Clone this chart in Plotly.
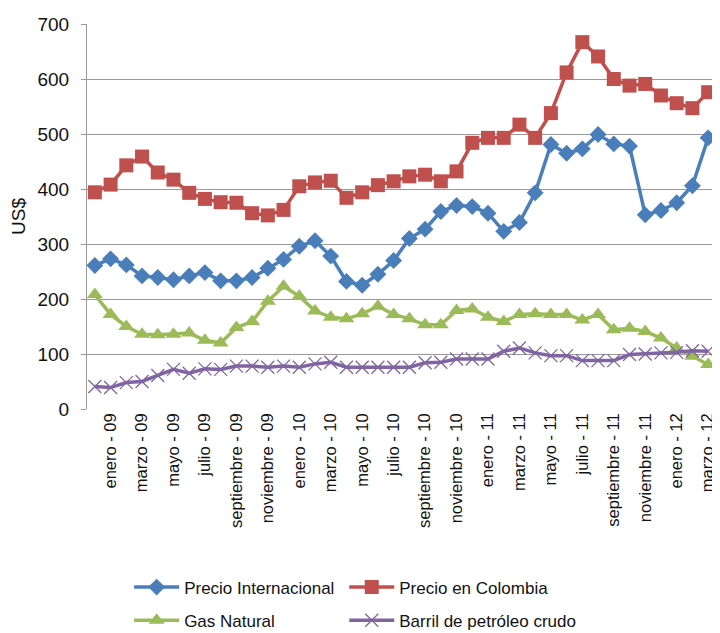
import plotly.graph_objects as go

meses = ["enero", "febrero", "marzo", "abril", "mayo", "junio", "julio",
         "agosto", "septiembre", "octubre", "noviembre", "diciembre"]

# diciembre-08 .. marzo-12 (40 months)
periodos = ["diciembre - 08"]
for anio in ["09", "10", "11"]:
    periodos += [f"{m} - {anio}" for m in meses]
periodos += [f"{m} - 12" for m in meses[:3]]

precio_internacional = [261, 273, 262, 242, 239, 235, 242, 248, 233, 233, 239, 256, 272, 296,
                        306, 278, 232, 225, 245, 270, 310, 327, 359, 370, 368, 356, 323, 339,
                        393, 481, 465, 473, 499, 482, 478, 353, 361, 375, 406, 493]
precio_colombia = [394, 408, 443, 459, 430, 417, 393, 382, 376, 375, 356, 352, 362, 405,
                   412, 415, 384, 394, 407, 414, 423, 426, 414, 432, 484, 493, 493, 517,
                   493, 538, 612, 667, 641, 600, 588, 591, 570, 556, 547, 576]
gas_natural = [208, 172, 150, 136, 135, 136, 138, 125, 120, 148, 159, 196, 223, 205,
               178, 167, 164, 173, 187, 172, 164, 153, 153, 179, 182, 167, 159, 172,
               173, 172, 172, 162, 172, 144, 147, 141, 129, 111, 96, 81]
barril_crudo = [41, 39, 48, 50, 61, 72, 65, 73, 72, 78, 78, 76, 78, 76, 82, 85, 76,
                76, 76, 76, 76, 84, 85, 91, 91, 91, 105, 111, 102, 97, 97, 88, 88, 88,
                99, 100, 102, 103, 106, 105]

etiquetas = periodos[1::2]

FONT = "Liberation Sans, Arial, sans-serif"

fig = go.Figure()

# legend is laid out as two columns: "legend" on the left, "legend2" on the right
series = [
    ("Precio Internacional", precio_internacional, "#4A7EBB",
     dict(symbol="diamond", size=13), "legend"),
    ("Precio en Colombia", precio_colombia, "#C0504D",
     dict(symbol="square", size=14), "legend2"),
    ("Gas Natural", gas_natural, "#9BBB59",
     dict(symbol="triangle-up", size=14), "legend"),
    ("Barril de petróleo crudo", barril_crudo, "#8064A2",
     dict(symbol="x-thin", size=13, line=dict(width=1.3, color="#8064A2")), "legend2"),
]

for nombre, valores, color, marker, leyenda in series:
    fig.add_trace(
        go.Scatter(
            x=periodos,
            y=valores,
            mode="lines+markers",
            name=nombre,
            legendgroup=nombre,
            line=dict(color=color, width=3.5),
            marker=dict(color=color, **marker),
            legend=leyenda
        )
    )

legend_style = dict(
    orientation="v",
    y=-0.417,
    yanchor="top",
    xanchor="left",
    itemwidth=45,
    tracegroupgap=8,
    font=dict(size=17, color="#111"),
    bgcolor="rgba(0,0,0,0)"
)

# page body has an 8px margin; the figure runs a bit past the window so the
# legend fits without squeezing the plot area
fig.update_layout(
    width=720,
    height=645,
    paper_bgcolor="white",
    plot_bgcolor="white",
    margin=dict(l=79, r=12, t=16, b=244),
    font=dict(family=FONT, size=16, color="#111"),
    xaxis=dict(
        type="category",
        tickmode="array",
        tickvals=etiquetas,
        ticktext=etiquetas,
        tickangle=-90,
        tickfont=dict(size=16.5),
        showgrid=False,
        showline=False,
        ticks="",
        automargin=False,
        range=[-0.5, len(periodos) - 0.5]
    ),
    yaxis=dict(
        range=[0, 700],
        dtick=100,
        showgrid=True,
        gridcolor="#999",
        gridwidth=1.2,
        showline=True,
        linecolor="#999",
        linewidth=1.2,
        ticks="outside",
        ticklen=5,
        tickcolor="#999",
        ticklabelstandoff=8,
        tickfont=dict(size=19),
        title=dict(text="US$", font=dict(size=19), standoff=6),
        automargin=False,
        zeroline=False
    ),
    legend=dict(x=0.067, **legend_style),
    legend2=dict(x=0.409, **legend_style),
    showlegend=True
)

fig.write_html("out.html")
